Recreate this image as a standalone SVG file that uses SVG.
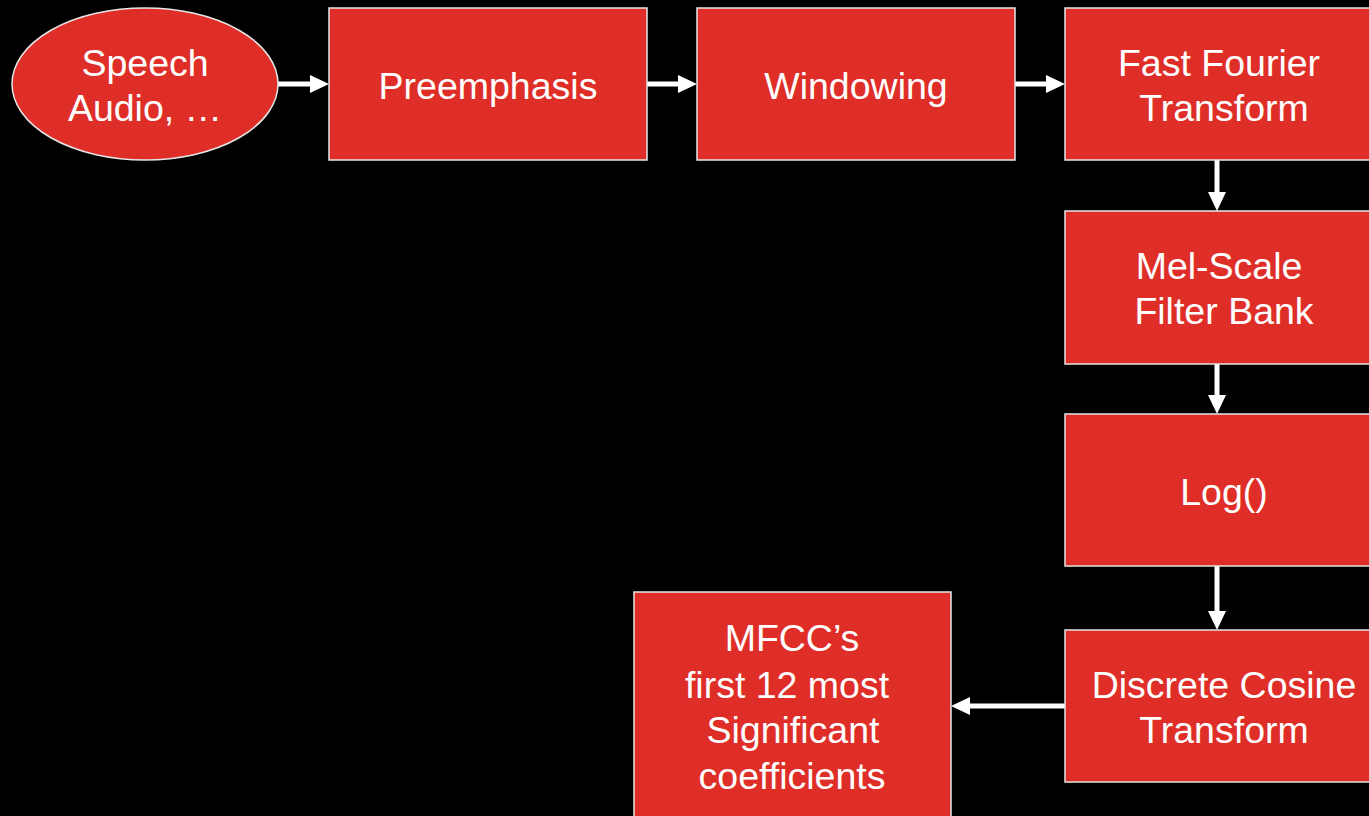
<svg xmlns="http://www.w3.org/2000/svg" width="1369" height="816" viewBox="0 0 1369 816">
<style>
.node{fill:#df2e28;stroke:#e6e6e6;stroke-width:1.5}
.t{font-family:"Liberation Sans",Arial,sans-serif;font-size:37.5px;fill:#ffffff;text-anchor:middle}
.c{stroke:#ffffff;stroke-width:5;fill:none}
</style>
<defs>
<marker id="ah" viewBox="0 0 19 18" refX="2" refY="9" markerWidth="19" markerHeight="18" markerUnits="userSpaceOnUse" orient="auto">
<path d="M0,0 L19,9 L0,18 Z" fill="#ffffff"/>
</marker>
</defs>
<rect width="1369" height="816" fill="#000000"/>
<g id="connectors">
<line class="c" x1="278" y1="84" x2="312" y2="84" marker-end="url(#ah)"/>
<line class="c" x1="647" y1="84" x2="680" y2="84" marker-end="url(#ah)"/>
<line class="c" x1="1015" y1="84" x2="1048" y2="84" marker-end="url(#ah)"/>
<line class="c" x1="1217" y1="160" x2="1217" y2="194" marker-end="url(#ah)"/>
<line class="c" x1="1217" y1="364" x2="1217" y2="397" marker-end="url(#ah)"/>
<line class="c" x1="1217" y1="566" x2="1217" y2="613" marker-end="url(#ah)"/>
<line class="c" x1="1065" y1="706" x2="968" y2="706" marker-end="url(#ah)"/>
</g>
<g id="speech">
<ellipse class="node" cx="145" cy="84" rx="133" ry="76"/>
<text class="t" x="145" y="76">Speech</text>
<text class="t" x="145" y="121">Audio, …</text>
</g>
<g id="preemphasis">
<rect class="node" x="329" y="8" width="318" height="152"/>
<text class="t" x="488" y="99">Preemphasis</text>
</g>
<g id="windowing">
<rect class="node" x="697" y="8" width="318" height="152"/>
<text class="t" x="856" y="99">Windowing</text>
</g>
<g id="fft">
<rect class="node" x="1065" y="8" width="318" height="152"/>
<text class="t" x="1219" y="76">Fast Fourier</text>
<text class="t" x="1224" y="121">Transform</text>
</g>
<g id="mel">
<rect class="node" x="1065" y="211" width="318" height="153"/>
<text class="t" x="1219" y="279">Mel-Scale</text>
<text class="t" x="1224" y="324">Filter Bank</text>
</g>
<g id="log">
<rect class="node" x="1065" y="414" width="318" height="152"/>
<text class="t" x="1224" y="505">Log()</text>
</g>
<g id="dct">
<rect class="node" x="1065" y="630" width="318" height="152"/>
<text class="t" x="1224" y="698">Discrete Cosine</text>
<text class="t" x="1224" y="743">Transform</text>
</g>
<g id="mfcc">
<rect class="node" x="634" y="592" width="317" height="240"/>
<text class="t" x="792" y="651">MFCC’s</text>
<text class="t" x="787" y="698">first 12 most</text>
<text class="t" x="793" y="743">Significant</text>
<text class="t" x="792" y="789">coefficients</text>
</g>
</svg>
